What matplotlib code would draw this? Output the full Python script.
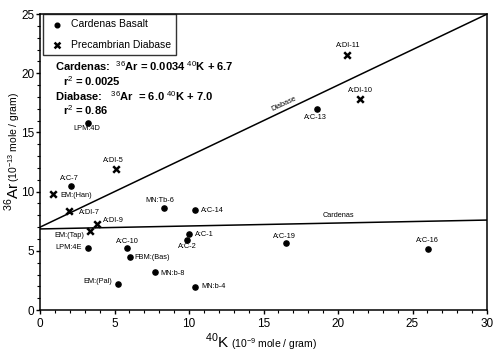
import matplotlib
matplotlib.use("Agg")
import matplotlib.pyplot as plt
from matplotlib.ticker import MultipleLocator
import numpy as np

plt.rcParams['font.family'] = ['Liberation Sans', 'DejaVu Sans']
plt.rcParams['mathtext.fontset'] = 'custom'
plt.rcParams['mathtext.rm'] = 'Liberation Sans'
plt.rcParams['mathtext.bf'] = 'Liberation Sans:bold'

# Cardenas Basalt samples
card_names = ["LPM:4D", "A:C-7", "A:C-13", "MN:Tb-6", "A:C-14", "A:C-1", "A:C-2",
              "A:C-10", "LPM:4E", "FBM:(Bas)", "MN:b-8", "EM:(Pal)", "MN:b-4",
              "A:C-19", "A:C-16"]
card_k = [3.24, 2.06, 18.57, 8.34, 10.43, 9.98, 9.89, 5.82, 3.24, 6.02, 7.70, 5.23, 10.40, 16.50, 26.06]
card_ar = [15.8, 10.5, 17.0, 8.64, 8.45, 6.41, 5.93, 5.28, 5.28, 4.52, 3.19, 2.23, 1.98, 5.65, 5.17]

# Precambrian Diabase samples
dia_names = ["A:DI-11", "A:DI-10", "A:DI-5", "EM:(Han)", "A:DI-7", "A:DI-9", "EM:(Tap)"]
dia_k = [20.6, 21.5, 5.08, 0.85, 1.97, 3.83, 3.36]
dia_ar = [21.55, 17.85, 11.95, 9.83, 8.39, 7.29, 6.69]

# regression lines as drawn (intercept, slope)
card_fit = (6.85, 0.025)
dia_fit = (7.0, 0.6)

# label placement (offset in points, ha, va)
card_lab = {
    "LPM:4D": (-1, -4, 'center', 'center'),
    "A:C-7": (-1, 5.5, 'center', 'center'),
    "A:C-13": (-1, -6.5, 'center', 'center'),
    "MN:Tb-6": (-3, 5.2, 'center', 'center'),
    "A:C-14": (4.3, 0, 'left', 'center'),
    "A:C-1": (4.5, 0, 'left', 'center'),
    "A:C-2": (0, -4.8, 'center', 'center'),
    "A:C-10": (0.5, 4.3, 'center', 'center'),
    "LPM:4E": (-4.7, 0, 'right', 'center'),
    "FBM:(Bas)": (3.3, -0.5, 'left', 'center'),
    "MN:b-8": (4.1, -0.7, 'left', 'center'),
    "EM:(Pal)": (-4.3, 1.2, 'right', 'center'),
    "MN:b-4": (4.3, 0, 'left', 'center'),
    "A:C-19": (-0.7, 4.8, 'center', 'center'),
    "A:C-16": (-0.7, 5.8, 'center', 'center'),
}
dia_lab = {
    "A:DI-11": (1, 7, 'center', 'center'),
    "A:DI-10": (0.3, 6.2, 'center', 'center'),
    "A:DI-5": (-1.8, 5.8, 'center', 'center'),
    "EM:(Han)": (5.5, -1.2, 'left', 'center'),
    "A:DI-7": (7, -1.6, 'left', 'center'),
    "A:DI-9": (4.5, 2, 'left', 'center'),
    "EM:(Tap)": (-4.1, -3.6, 'right', 'center'),
}

W, H = 500, 362
fig = plt.figure(figsize=(W / 100, H / 100), dpi=100)
ax = fig.add_axes([0.08, 0.1436, 0.894, 0.8174])

xs = np.array([0, 30])
ax.plot(xs, card_fit[0] + card_fit[1] * xs, color='black', lw=1.1)
ax.plot(xs, dia_fit[0] + dia_fit[1] * xs, color='black', lw=1.1)

ax.scatter(card_k, card_ar, s=14, marker='o', color='black', zorder=3, label='Cardenas Basalt')
ax.scatter(dia_k, dia_ar, s=22, marker='x', color='black', linewidths=1.8, zorder=3,
           label='Precambrian Diabase')

for n, x, y in zip(card_names, card_k, card_ar):
    dx, dy, ha, va = card_lab[n]
    ax.annotate(n, (x, y), xytext=(dx, dy), textcoords='offset points', ha=ha, va=va, fontsize=5.3)
for n, x, y in zip(dia_names, dia_k, dia_ar):
    dx, dy, ha, va = dia_lab[n]
    ax.annotate(n, (x, y), xytext=(dx, dy), textcoords='offset points', ha=ha, va=va, fontsize=5.3)

ax.text(16.4, 17.45, "Diabase", fontsize=5.3, rotation=25, ha='center', va='center')
ax.text(20, 7.95, "Cardenas", fontsize=5.3, ha='center', va='center')

ax.text(1.0, 20.6, r"Cardenas:  $^{36}$Ar = 0.0034 $^{40}$K + 6.7", fontsize=8, fontweight='bold', va='center')
ax.text(1.55, 19.35, r"r$^{2}$ = 0.0025", fontsize=8, fontweight='bold', va='center')
ax.text(1.0, 18.1, r"Diabase:   $^{36}$Ar  = 6.0 $^{40}$K + 7.0", fontsize=8, fontweight='bold', va='center')
ax.text(1.55, 16.85, r"r$^{2}$ = 0.86", fontsize=8, fontweight='bold', va='center')

ax.set_xlim(0, 30)
ax.set_ylim(0, 25)
ax.xaxis.set_major_locator(MultipleLocator(5))
ax.xaxis.set_minor_locator(MultipleLocator(1))
ax.yaxis.set_major_locator(MultipleLocator(5))
ax.yaxis.set_minor_locator(MultipleLocator(1))
ax.tick_params(which='major', length=3, width=1, labelsize=8.5, pad=1)
ax.tick_params(axis='x', which='major', pad=3)
ax.tick_params(which='minor', length=2, width=0.8)
for s in ax.spines.values():
    s.set_linewidth(1.1)

# axis titles (large isotope symbol, smaller unit text as in the original)
fig.text(229 / W, 1 - 348 / H, r"$^{40}$K", fontsize=11, ha='right', va='baseline')
fig.text(231 / W, 1 - 348 / H, r"(10$^{-9}$ mole / gram)", fontsize=7.5, ha='left', va='baseline')
fig.text(12 / W, 1 - 182 / H, r"$^{36}$Ar", fontsize=11, rotation=90, ha='center', va='top')
fig.text(14.5 / W, 1 - 182 / H, r"(10$^{-13}$ mole / gram)", fontsize=7.5, rotation=90, ha='center', va='bottom')

leg = ax.legend(loc='upper left', bbox_to_anchor=(3 / 447, 1.0), frameon=True, fancybox=False,
                borderaxespad=0, fontsize=7.5, handletextpad=0.6, labelspacing=1.0, borderpad=0.5,
                handlelength=1.6, markerscale=0.9)
leg.get_frame().set_edgecolor('black')
leg.get_frame().set_linewidth(1.0)

fig.savefig("out.png", dpi=100)
